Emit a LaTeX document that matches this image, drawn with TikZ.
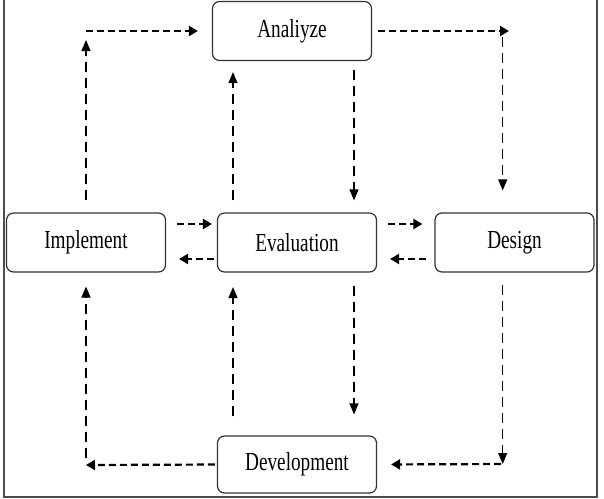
\documentclass[tikz,border=0pt]{standalone}
\usepackage{fontspec}
\setmainfont{Liberation Serif}
\usetikzlibrary{arrows.meta}

\begin{document}
\begin{tikzpicture}[x=1pt, y=-1pt,
    phase/.style={draw=black!80, rounded corners=7pt, line width=1.2pt,
        minimum width=159pt, minimum height=59pt, inner sep=0pt,
        font=\fontsize{26}{30}\selectfont},
    hlink/.style={-{Triangle[length=9pt,width=10pt]}, line width=2.2pt,
        dash pattern=on 7pt off 4pt},
    vlink/.style={-{Triangle[length=11pt,width=9pt]}, line width=1.2pt,
        dash pattern=on 10pt off 6pt}]
    \useasboundingbox (0,0) rectangle (604,498);

    % Rahmen
    \draw[black!70, line width=2pt] (4,0) -- (4,496.5) -- (597,496.5) -- (597,0);

    % Phasen
    \node[phase] (ana) at (292,31)    {\scalebox{0.74}[1]{Analiyze}};
    \node[phase] (impl) at (86,242.5) {\scalebox{0.74}[1]{Implement}};
    \node[phase] (eval) at (297,242.5) {\scalebox{0.74}[1]{Evaluation}};
    \node[phase] (dsg) at (514.5,242.5) {\scalebox{0.74}[1]{Design}};
    \node[phase, minimum height=57pt] (dev) at (297,464.5) {\scalebox{0.74}[1]{Development}};

    % Ecken und Spalten
    \coordinate (tl) at (86,31);
    \coordinate (tr) at (509,31);
    \coordinate (rv) at (502.7,0);
    \coordinate (br) at (502.7,464);
    \coordinate (bl) at (86,465);
    \coordinate (up) at (233,0);
    \coordinate (dn) at (354,0);
    \coordinate (rt) at (0,224);
    \coordinate (lt) at (0,259);

    % Zyklus aussen
    \draw[vlink, shorten <=12pt, shorten >=9pt] (impl.north) -- (tl);
    \draw[hlink, shorten >=14pt] (tl) -- (ana.west);
    \draw[hlink, shorten <=6pt] (ana.east) -- (tr);
    \draw[vlink, shorten <=6pt, shorten >=22pt] (rv |- tr) -- (rv |- dsg.north);
    \draw[vlink, shorten <=12.5pt] (rv |- dsg.south) -- (br);
    \draw[hlink, shorten <=1.5pt, shorten >=14pt] (br) -- (dev.east);
    \draw[hlink, shorten <=2pt] (dev.west) -- (bl);
    \draw[vlink, shorten <=7pt, shorten >=14pt] (bl) -- (impl.south);

    % Evaluation
    \draw[vlink, shorten <=12pt, shorten >=11pt] (up |- eval.north) -- (up |- ana.south);
    \draw[vlink, shorten <=9pt, shorten >=12pt] (dn |- ana.south) -- (dn |- eval.north);
    \draw[vlink, shorten <=13pt, shorten >=21pt] (dn |- eval.south) -- (dn |- dev.north);
    \draw[vlink, shorten <=19pt, shorten >=14.5pt] (up |- dev.north) -- (up |- eval.south);
    \draw[hlink, shorten <=11pt, shorten >=5pt] (impl.east |- rt) -- (eval.west |- rt);
    \draw[hlink, shorten <=3pt, shorten >=13pt] (eval.west |- lt) -- (impl.east |- lt);
    \draw[hlink, shorten <=11pt, shorten >=12pt] (eval.east |- rt) -- (dsg.west |- rt);
    \draw[hlink, shorten <=8pt, shorten >=13pt] (dsg.west |- lt) -- (eval.east |- lt);
\end{tikzpicture}
\end{document}
